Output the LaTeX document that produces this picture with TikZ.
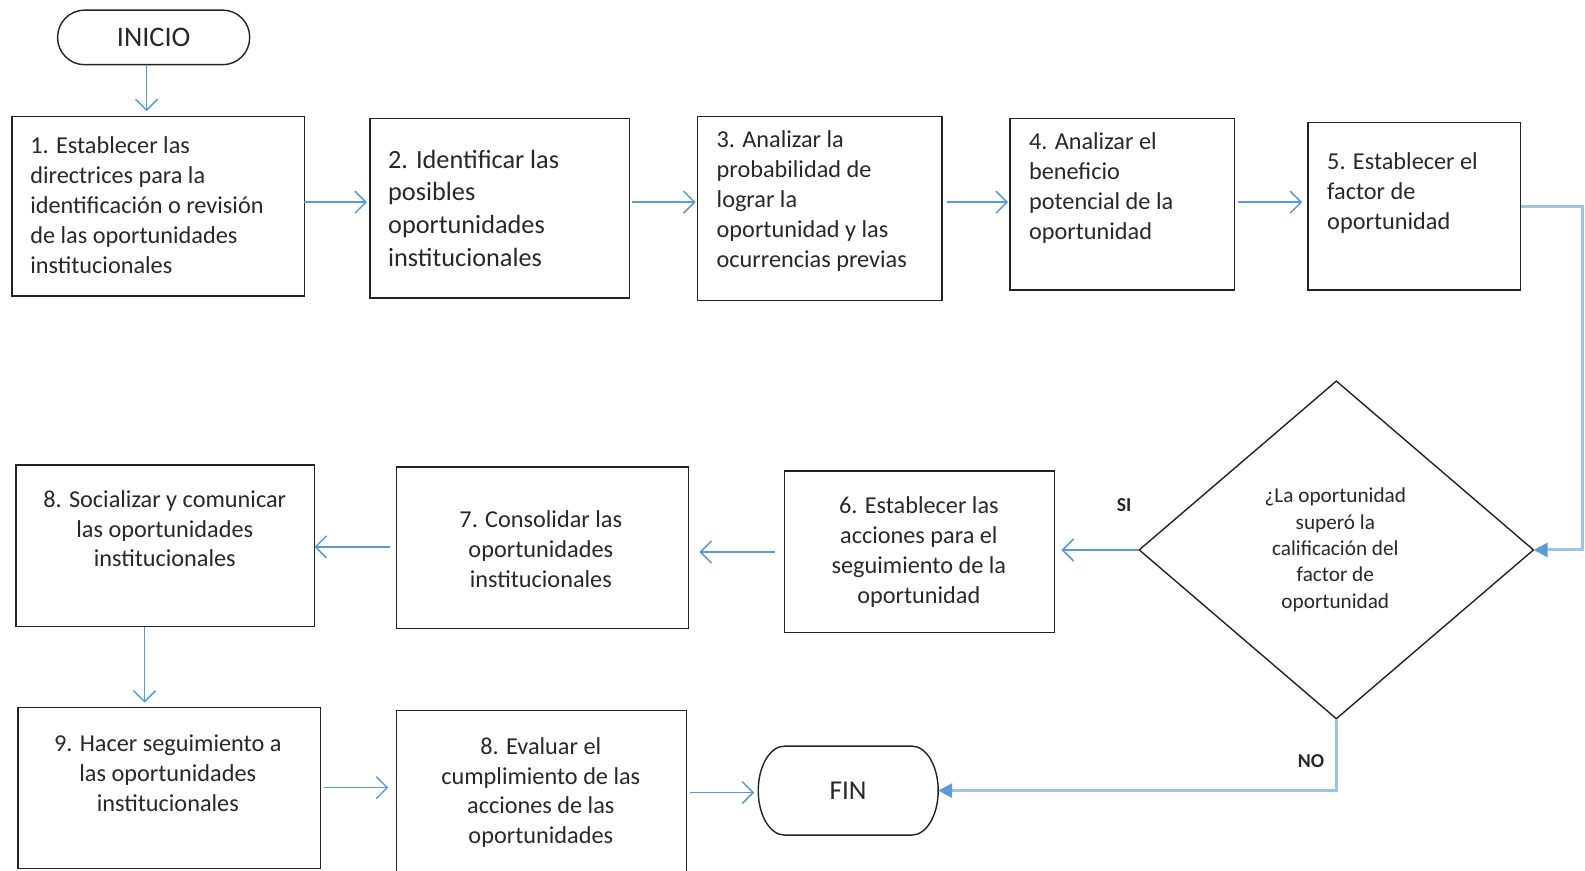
\documentclass[tikz,border=0pt]{standalone}
\usepackage{fontspec}
\setmainfont{Carlito}
\usetikzlibrary{arrows.meta,shapes.geometric}
\definecolor{ablue}{RGB}{91,155,213}
\definecolor{lblue}{RGB}{157,195,230}
\definecolor{edgec}{RGB}{35,35,35}
\definecolor{txtc}{RGB}{40,40,40}
\begin{document}
\begin{tikzpicture}[x=1pt,y=-1pt, scale=1.01084, transform shape,
 box/.style={draw=edgec, line width=1.4pt, rectangle, inner sep=0pt, outer sep=0pt},
 txt/.style={inner sep=0pt, outer sep=0pt, text=txtc, font=\fontsize{24}{29.5}\selectfont},
 conn/.style={draw=ablue, line width=1.5pt, -{Straight Barb[length=11pt,width=22pt]}},
 elbow/.style={draw=lblue, line width=3pt, -{Triangle[length=14pt,width=14pt,color=ablue]}},
 lbl/.style={inner sep=0pt, text=txtc, font=\bfseries\fontsize{19.5}{22}\selectfont}
 ]
\useasboundingbox (0,0) rectangle (1568,860.7);
\fill[white] (0,0) rectangle (1568,860.7);
\clip (0,0) rectangle (1568,860.7);

% terminals
\node[box, rounded corners=27pt, minimum width=190pt, minimum height=54pt,
      font=\fontsize{28}{32}\selectfont, text=txtc] (ini) at (152,37) {INICIO};
\node[inner sep=0pt, outer sep=0pt, minimum width=178pt, minimum height=88pt,
      font=\fontsize{27}{32}\selectfont, text=txtc] (fin) at (839,782) {FIN};
\draw[draw=edgec, line width=1.4pt]
  ([xshift=26pt]fin.north west) -- ([xshift=-26pt]fin.north east)
  arc[start angle=90, end angle=-90, x radius=26pt, y radius=44pt]
  -- ([xshift=26pt]fin.south west)
  arc[start angle=270, end angle=90, x radius=26pt, y radius=44pt] -- cycle;

% boxes
\node[box, minimum width=289pt, minimum height=178pt] (b1) at (156.5,204) {};
\node[box, minimum width=257pt, minimum height=178pt] (b2) at (494.5,206) {};
\node[box, minimum width=242pt, minimum height=182pt] (b3) at (811,206) {};
\node[box, minimum width=222pt, minimum height=170pt] (b4) at (1110,202) {};
\node[box, minimum width=210pt, minimum height=166pt] (b5) at (1399,204) {};
\node[box, minimum width=267pt, minimum height=160pt] (b6) at (909.5,546) {};
\node[box, minimum width=289pt, minimum height=160pt] (b7) at (536.5,542) {};
\node[box, minimum width=295pt, minimum height=160pt] (b8) at (163.5,540) {};
\node[box, minimum width=299pt, minimum height=159pt] (b9) at (167.5,779.5) {};
\node[box, minimum width=287pt, minimum height=177pt] (b10) at (535.5,791.5) {};
\node[draw=edgec, line width=1.4pt, diamond, inner sep=0pt, outer sep=0pt,
      minimum width=390pt, minimum height=334pt] (dia) at (1322,544) {};

% texts
\node[txt, align=left, anchor=west] (t1) at (30,203)
  {1. Establecer las\\directrices para la\\identificación o revisión\\de las oportunidades\\institucionales};
\node[txt, align=left, anchor=west, font=\fontsize{26}{32.2}\selectfont] (t2) at (384,206)
  {2. Identificar las\\posibles\\oportunidades\\institucionales};
\node[txt, align=left, anchor=west] (t3) at (709,199)
  {3. Analizar la\\probabilidad de\\lograr la\\oportunidad y las\\ocurrencias previas};
\node[txt, align=left, anchor=west] (t4) at (1018,186)
  {4. Analizar el\\beneficio\\potencial de la\\oportunidad};
\node[txt, align=left, anchor=west] (t5) at (1313,191)
  {5. Establecer el\\factor de\\oportunidad};
\node[txt, align=center] (t6) at (909,546)
  {6. Establecer las\\acciones para el\\seguimiento de la\\oportunidad};
\node[txt, align=center] (t7) at (535,543)
  {7. Consolidar las\\oportunidades\\institucionales};
\node[txt, align=center] (t8) at (163,523)
  {8. Socializar y comunicar\\las oportunidades\\institucionales};
\node[txt, align=center] (t9) at (166,765)
  {9. Hacer seguimiento a\\las oportunidades\\institucionales};
\node[txt, align=center] (t10) at (535,784)
  {8. Evaluar el\\cumplimiento de las\\acciones de las\\oportunidades};
\node[txt, align=center, font=\fontsize{21}{26}\selectfont] (td) at (1321,544)
  {¿La oportunidad\\superó la\\calificación del\\factor de\\oportunidad};
\node[lbl] (si) at (1112,500) {SI};
\node[lbl] (no) at (1297,753) {NO};

% helper coordinates
\coordinate (v1) at (145,0);
\coordinate (v2) at (143,0);
\coordinate (k1) at (1565,0);
\coordinate (r1) at (0,200);
\coordinate (r2a) at (0,546);
\coordinate (r2b) at (0,541);
\coordinate (r3a) at (0,779);
\coordinate (r3b) at (0,784);

% connectors
\draw[conn, shorten >=5pt] (ini.south -| v1) -- (b1.north -| v1);
\draw[conn, shorten >=3pt] (b1.east |- r1) -- (b2.west |- r1);
\draw[conn, shorten <=2pt, shorten >=2pt] (b2.east |- r1) -- (b3.west |- r1);
\draw[conn, shorten <=5pt, shorten >=2pt] (b3.east |- r1) -- (b4.west |- r1);
\draw[conn, shorten <=4pt, shorten >=6pt] (b4.east |- r1) -- (b5.west |- r1);
\draw[elbow] (b5.east) -- (b5.east -| k1) |- (dia.east);
\draw[conn, shorten >=7pt] (dia.west) -- (dia.west -| b6.east);
\draw[conn, shorten <=10pt, shorten >=11pt] (b6.west |- r2a) -- (b7.east |- r2a);
\draw[conn, shorten <=6pt] (b7.west |- r2b) -- (b8.east |- r2b);
\draw[conn, shorten >=5pt] (b8.south -| v2) -- (b9.north -| v2);
\draw[conn, shorten <=4pt, shorten >=8pt] (b9.east |- r3a) -- (b10.west |- r3a);
\draw[conn, shorten <=4pt, shorten >=4pt] (b10.east |- r3b) -- (fin.west |- r3b);
\draw[elbow] (dia.south) |- (fin.east);
\end{tikzpicture}
\end{document}
